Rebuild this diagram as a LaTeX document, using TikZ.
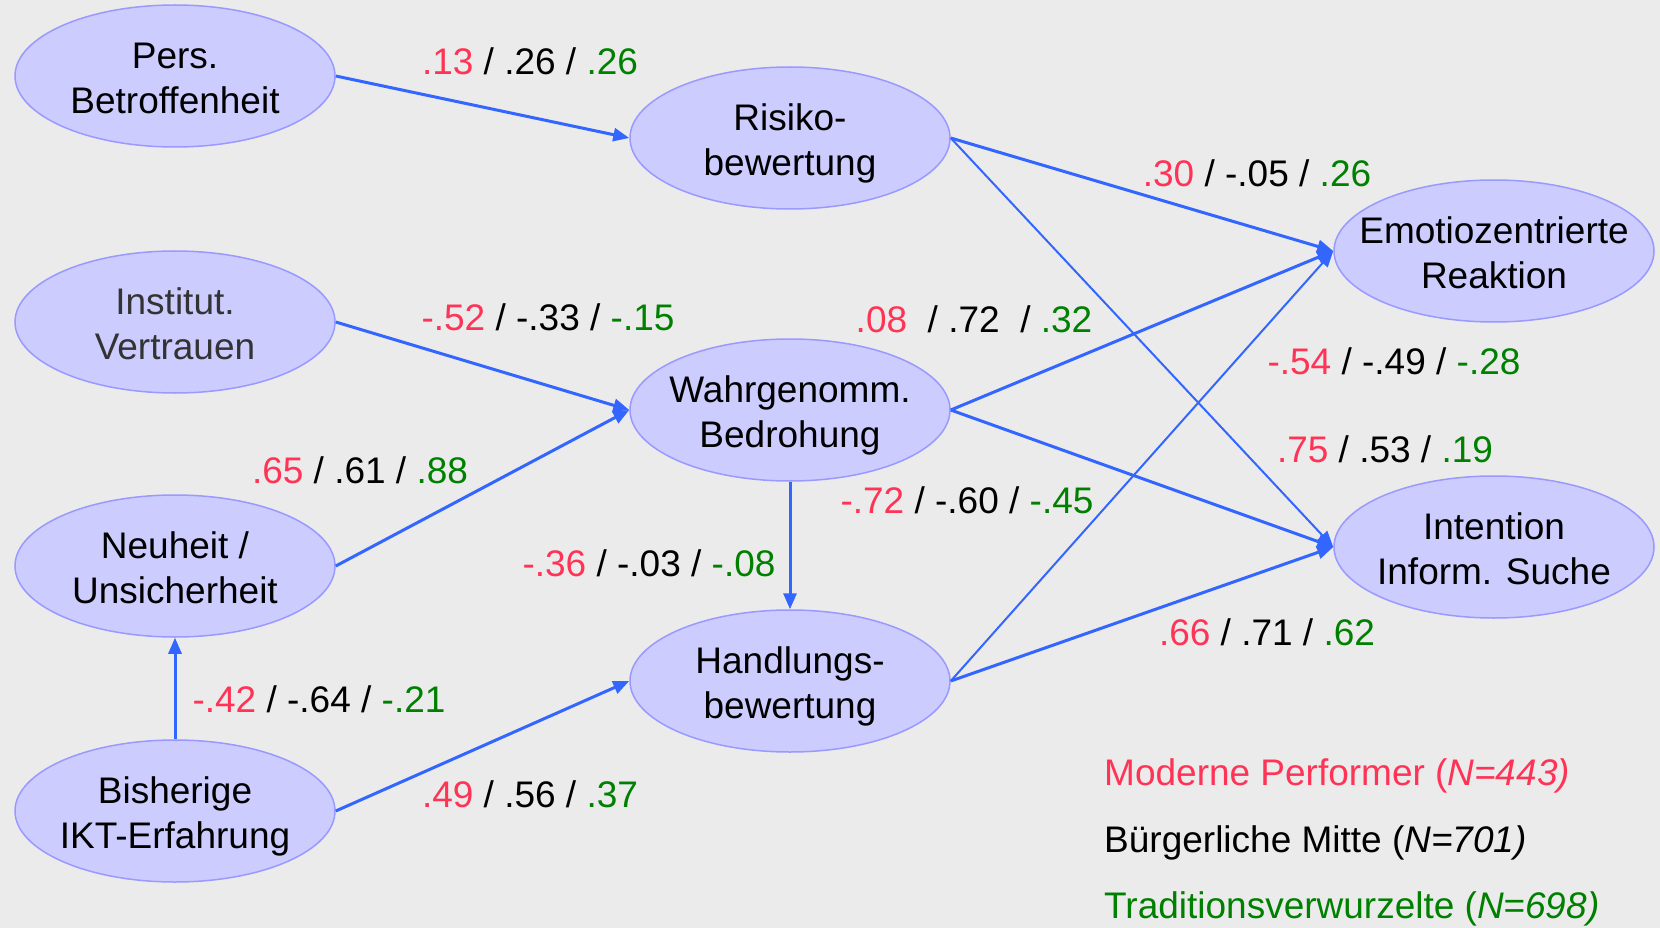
\documentclass[tikz,border=0pt]{standalone}
\usepackage{fontspec}
\setmainfont{Liberation Sans}
\usetikzlibrary{shapes.geometric,arrows.meta}
\definecolor{bg}{HTML}{EBEBEB}
\definecolor{efill}{HTML}{CCCCFF}
\definecolor{edraw}{HTML}{9999FF}
\definecolor{arr}{HTML}{3366FF}
\definecolor{cred}{HTML}{FF3355}
\definecolor{cgreen}{HTML}{008000}
\definecolor{cgray}{HTML}{333333}
\newcommand{\R}[1]{\textcolor{cred}{#1}}
\newcommand{\G}[1]{\textcolor{cgreen}{#1}}
\newcommand{\twolines}[2]{\rule{0pt}{40pt}#1\\#2\rule[-10pt]{0pt}{10pt}}
\begin{document}
\begin{tikzpicture}[x=1pt,y=-1pt,
  every node/.style={font=\fontsize{37}{44}\selectfont},
  construct/.style={ellipse,fill=efill,draw=edraw,line width=1.5pt,minimum width=320pt,minimum height=142pt,inner xsep=-80pt,inner ysep=0pt,align=center,
    font=\fontsize{37}{45}\selectfont},
  path/.style={draw=arr,line width=3pt,-{Triangle[length=16pt,width=13pt]},fill=arr},
  thinpath/.style={path,line width=2pt},
  coef/.style={anchor=base,inner sep=0pt},
  legend/.style={anchor=base west,inner sep=0pt}]
\fill[bg] (0,0) rectangle (1660,928);
\useasboundingbox (0,0) rectangle (1660,928);
\node[construct] (pers) at (175,76) {\twolines{Pers.}{Betroffenheit}};
\node[construct] (risk) at (790,138) {\twolines{Risiko-}{bewertung}};
\node[construct,text=cgray] (inst) at (175,322) {\twolines{Institut.}{Vertrauen}};
\node[construct] (threat) at (790,410) {\twolines{Wahrgenomm.}{Bedrohung}};
\node[construct] (novel) at (175,566) {\twolines{Neuheit /}{Unsicherheit}};
\node[construct] (act) at (790,681) {\twolines{Handlungs-}{bewertung}};
\node[construct] (ikt) at (175,811) {\twolines{Bisherige}{IKT-Erfahrung}};
\node[construct] (emo) at (1494,251) {\twolines{Emotiozentrierte}{Reaktion}};
\node[construct] (info) at (1494,547) {\twolines{Intention}{Inform. Suche}};

\draw[path] (pers.east) -- (risk.west);
\draw[path] (risk.east) -- (emo.west);
\draw[thinpath] (risk.east) -- (info.west);
\draw[path] (inst.east) -- (threat.west);
\draw[path] (novel.east) -- (threat.west);
\draw[path] (threat.east) -- (emo.west);
\draw[path] (threat.east) -- (info.west);
\draw[path] (threat.south) -- (act.north);
\draw[thinpath] (act.east) -- (emo.west);
\draw[path] (act.east) -- (info.west);
\draw[path] (ikt.east) -- (act.west);
\draw[path] (ikt.north) -- (novel.south);

\node[coef] (c1) at (530,75) {\R{.13} / .26 / \G{.26}};
\node[coef] (c2) at (1257,187) {\R{.30} / -.05 / \G{.26}};
\node[coef] (c3) at (548,330) {\R{-.52} / -.33 / \G{-.15}};
\node[coef] (c4) at (974,332) {\R{.08}\ \ / .72\ \ / \G{.32}};
\node[coef] (c5) at (1394,374) {\R{-.54} / -.49 / \G{-.28}};
\node[coef] (c6) at (360,483) {\R{.65} / .61 / \G{.88}};
\node[coef] (c7) at (1385,462) {\R{.75} / .53 / \G{.19}};
\node[coef] (c8) at (967,513) {\R{-.72} / -.60 / \G{-.45}};
\node[coef] (c9) at (649,576) {\R{-.36} / -.03 / \G{-.08}};
\node[coef] (c10) at (1267,645) {\R{.66} / .71 / \G{.62}};
\node[coef] (c11) at (319,712) {\R{-.42} / -.64 / \G{-.21}};
\node[coef] (c12) at (530,807) {\R{.49} / .56 / \G{.37}};

\node[legend,text=cred] (l1) at (1104,785) {Moderne Performer (\textit{N=443)}};
\node[legend] (l2) at (1104,852) {Bürgerliche Mitte (\textit{N=701)}};
\node[legend,text=cgreen] (l3) at (1104,918) {Traditionsverwurzelte (\textit{N=698)}};
\end{tikzpicture}
\end{document}
